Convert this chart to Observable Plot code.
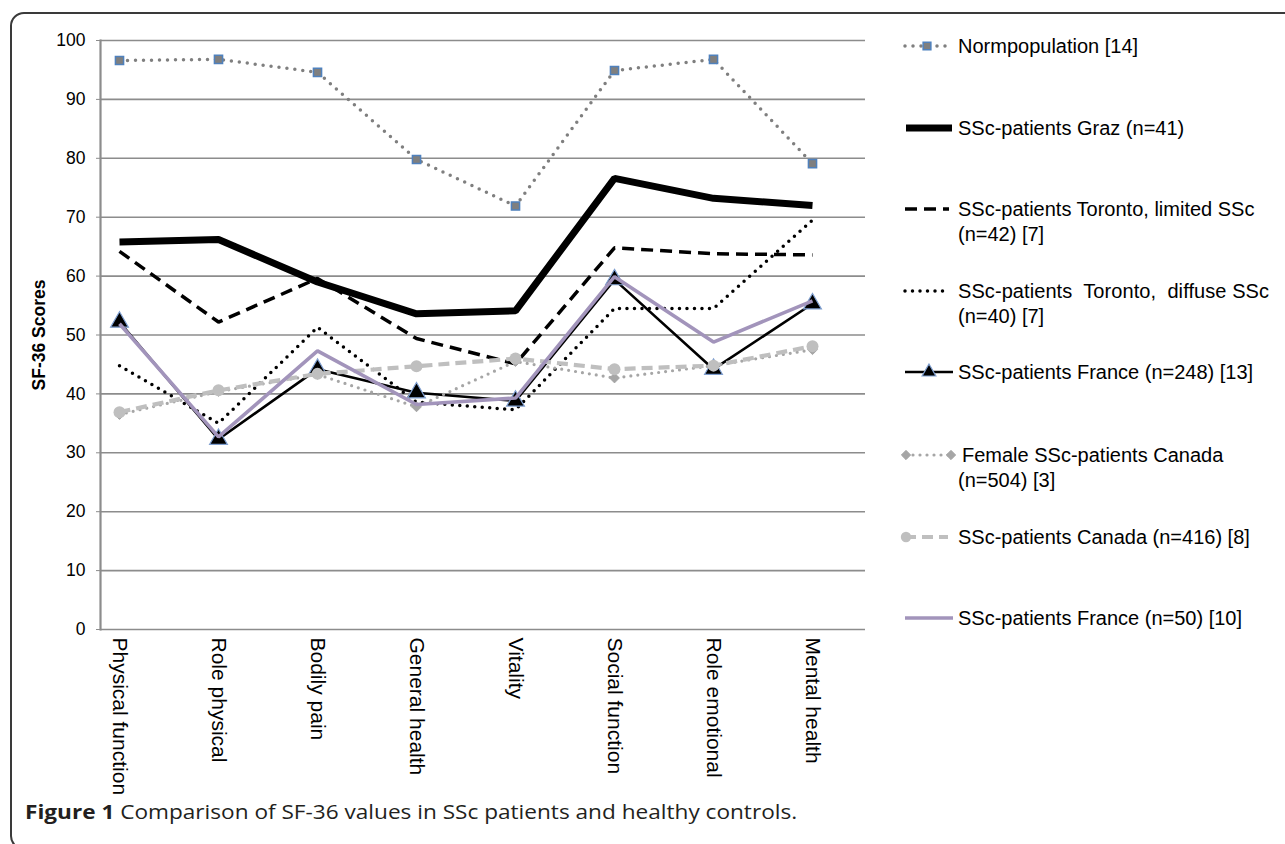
<!DOCTYPE html>
<html><head><meta charset="utf-8">
<script src="https://cdn.jsdelivr.net/npm/d3@7"></script>
<script src="https://cdn.jsdelivr.net/npm/@observablehq/plot@0.6"></script>
<style>
body{margin:0;background:#fff;width:1285px;height:844px;overflow:hidden;position:relative;font-family:"Liberation Sans",Arial,sans-serif;}
#frame{position:absolute;left:10px;top:12px;width:1320px;height:838px;border:2px solid #3a3a3a;border-radius:14px;box-sizing:border-box;}
#chart{position:absolute;left:0;top:0;}
#legend{position:absolute;left:0;top:0;}
#caption{position:absolute;left:25px;top:798px;font-family:"Open Sans",sans-serif;font-size:20px;font-weight:500;color:#231f20;white-space:nowrap;transform:scaleX(1.13);transform-origin:0 50%;}
#caption b{font-weight:700;}
</style></head><body>
<div id="frame"></div><div id="chart"></div><div id="legend"></div>
<div id="caption"><b>Figure 1</b> Comparison of SF-36 values in SSc patients and healthy controls.</div>
<script>
// ---- data ----
const categories = ["Physical function","Role physical","Bodily pain","General health","Vitality","Social function","Role emotional","Mental health"];
const yTicks = [0,10,20,30,40,50,60,70,80,90,100];
const normpopulation   = [96.6,96.8,94.6,79.8,71.9,94.9,96.8,79.1];
const grazPatients     = [65.8,66.2,59.0,53.6,54.1,76.6,73.2,72.0];
const torontoLimited   = [64.2,52.2,59.6,49.4,45.1,64.8,63.8,63.6];
const torontoDiffuse   = [44.8,35.0,51.3,38.6,37.3,54.5,54.5,69.5];
const france248        = [52.2,32.3,44.2,40.2,38.8,59.4,44.2,55.3];
const femaleCanada     = [36.5,40.4,43.3,37.8,45.5,42.7,44.8,47.5];
const canada416        = [36.9,40.6,43.4,44.7,46.0,44.2,44.8,48.1];
const france50         = [51.9,32.7,47.3,38.2,39.3,59.9,48.8,55.8];
const seriesNames = [
  "Normpopulation [14]",
  "SSc-patients Graz (n=41)",
  "SSc-patients Toronto, limited SSc (n=42) [7]",
  "SSc-patients Toronto, diffuse SSc (n=40) [7]",
  "SSc-patients France (n=248) [13]",
  "Female SSc-patients Canada (n=504) [3]",
  "SSc-patients Canada (n=416) [8]",
  "SSc-patients France (n=50) [10]"
];
const seriesValues = [normpopulation,grazPatients,torontoLimited,torontoDiffuse,france248,femaleCanada,canada416,france50];

// ---- styles ----
const styles = [
  {stroke:"#7f7f7f", strokeWidth:3.5, strokeDasharray:"0 8", strokeLinecap:"round", symbol:"square", r:4.6, fill:"#7f7f7f", mstroke:"#4f81bd", mw:1.5},
  {stroke:"#000", strokeWidth:7},
  {stroke:"#000", strokeWidth:3.5, strokeDasharray:"12 7"},
  {stroke:"#000", strokeWidth:3.5, strokeDasharray:"0 7.5", strokeLinecap:"round"},
  {stroke:"#000", strokeWidth:2.6, symbol:"triangle", r:6.6, fill:"#000", mstroke:"#7f9fd0", mw:1.2},
  {stroke:"#a6a6a6", strokeWidth:3.2, strokeDasharray:"0 7", strokeLinecap:"round", symbol:"diamond2", r:4.4, fill:"#a6a6a6", mstroke:"#a6a6a6", mw:1},
  {stroke:"#bfbfbf", strokeWidth:4.2, strokeDasharray:"11 6", symbol:"circle", r:6, fill:"#bfbfbf", mstroke:"#bfbfbf", mw:0},
  {stroke:"#a294bb", strokeWidth:3.6}
];

const W = 900, H = 810;
const marks = [
  Plot.gridY(yTicks, {stroke:"#8c8c8c", strokeOpacity:1, strokeWidth:1.6}),
  Plot.frame({anchor:"left", stroke:"#8c8c8c", strokeWidth:2.2}),
  Plot.axisY(yTicks, {tickSize:4, tickPadding:11, fontSize:17.5, stroke:"#8c8c8c", fill:"#000", label:null}),
  Plot.axisX({tickRotate:90, tickSize:0, tickPadding:8, fontSize:21, fill:"#000", label:null}),
  Plot.text(["SF-36 Scores"], {frameAnchor:"left", textAnchor:"middle", rotate:-90, dx:-61, fontWeight:"bold", fontSize:17.5, fill:"#000"})
];
seriesValues.forEach((vals, i) => {
  const s = styles[i];
  const data = categories.map((c, j) => ({cat:c, v:vals[j]}));
  marks.push(Plot.lineY(data, {x:"cat", y:"v", stroke:s.stroke, strokeWidth:s.strokeWidth,
    strokeDasharray:s.strokeDasharray, strokeLinecap:s.strokeLinecap || "butt", strokeLinejoin:"miter"}));
  if (s.symbol) marks.push(Plot.dot(data, {x:"cat", y:"v", symbol:s.symbol, r:s.r, fill:s.fill, stroke:s.mstroke, strokeWidth:s.mw}));
});

const chart = Plot.plot({
  width: W, height: H,
  marginLeft: 100, marginRight: 35, marginTop: 40, marginBottom: H - 629,
  style: {fontFamily:"Liberation Sans, Arial, sans-serif", background:"transparent", overflow:"visible"},
  x: {type:"point", domain:categories, padding:0, insetLeft:17, insetRight:51},
  y: {domain:[0,100]},
  marks
});
document.getElementById("chart").appendChild(chart);

// ---- legend ----
const legendLines = [
  ["Normpopulation [14]"],
  ["SSc-patients Graz (n=41)"],
  ["SSc-patients Toronto, limited SSc","(n=42) [7]"],
  ["SSc-patients  Toronto,  diffuse SSc","(n=40) [7]"],
  ["SSc-patients France (n=248) [13]"],
  ["Female SSc-patients Canada","(n=504) [3]"],
  ["SSc-patients Canada (n=416) [8]"],
  ["SSc-patients France (n=50) [10]"]
];
const legendY = [46,128,209,291,372,455,537,618];
const sampleX = [[905,949],[906,952],[905,949],[905,949],[905,953],[906,951],[905,948],[905,953]];
const markerAt = [[927],[],[],[],[929],[906,951],[906],[]];
const textX = [958,958,958,958,958,962,958,958];
const lg = d3.create("svg").attr("width",1285).attr("height",700)
  .style("font-family","Liberation Sans, Arial, sans-serif").style("font-size","20px");
legendLines.forEach((lines, i) => {
  const s = styles[i], y = legendY[i];
  lg.append("line").attr("x1",sampleX[i][0]).attr("x2",sampleX[i][1]).attr("y1",y).attr("y2",y)
    .attr("stroke",s.stroke).attr("stroke-width",s.strokeWidth)
    .attr("stroke-dasharray",s.strokeDasharray||null).attr("stroke-linecap",s.strokeLinecap||"butt");
  if (s.symbol) {
    const sym = {square:d3.symbolSquare, triangle:d3.symbolTriangle, diamond2:d3.symbolDiamond2, circle:d3.symbolCircle}[s.symbol];
    const k = s.symbol==="circle" ? 0.75 : (s.symbol==="triangle" ? 0.6 : 0.9);
    markerAt[i].forEach(mx => {
      lg.append("path").attr("d", d3.symbol(sym, Math.PI*s.r*s.r*k)()).attr("transform",`translate(${mx},${y})`)
        .attr("fill",s.fill).attr("stroke",s.mstroke).attr("stroke-width",s.mw);
    });
  }
  lines.forEach((t, j) => {
    const tx = lg.append("text").attr("x", j===0 ? textX[i] : 958).attr("y", y + 7 + j*25).text(t).attr("xml:space","preserve");
    if (i===3 && j===0) tx.attr("textLength",311).attr("lengthAdjust","spacing");
  });
});
document.getElementById("legend").appendChild(lg.node());
</script>
</body></html>
